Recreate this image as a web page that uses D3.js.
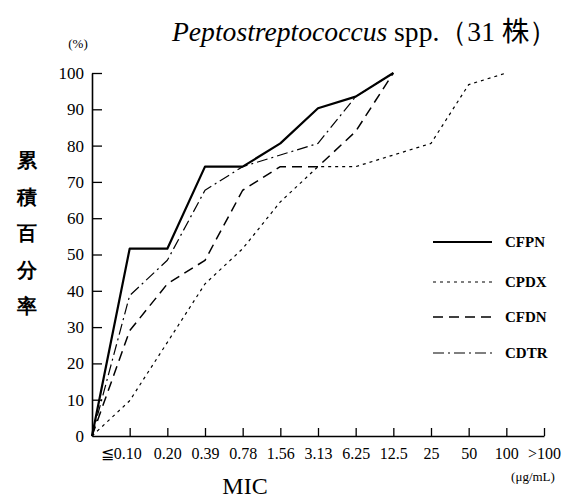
<!DOCTYPE html>
<html><head><meta charset="utf-8">
<script src="https://cdn.jsdelivr.net/npm/d3@7"></script>
<style>
body{margin:0;background:#fff;}
text{font-family:"Liberation Serif","DejaVu Serif",serif;fill:#000;}
</style></head>
<body>
<svg id="chart" width="577" height="502"></svg>
<script>
// ---- data ----
const categories = ["0","≦0.10","0.20","0.39","0.78","1.56","3.13","6.25","12.5","25","50","100",">100"];
const yTicks = [0,10,20,30,40,50,60,70,80,90,100];
const seriesNames = ["CFPN","CPDX","CFDN","CDTR"];
const cfpn = [0,51.6,51.6,74.2,74.2,80.6,90.3,93.5,100];
const cpdx = [0,9.7,25.8,41.9,51.6,64.5,74.2,74.2,77.4,80.6,96.8,100];
const cfdn = [0,29.0,41.9,48.4,67.7,74.2,74.2,83.9,100];
const cdtr = [0,38.7,48.4,67.7,74.2,77.4,80.6,93.5,100];
const seriesValues = [cfpn,cpdx,cfdn,cdtr];

const svg = d3.select("#chart");
const x = d3.scalePoint().domain(categories).range([92,544]);
const y = d3.scaleLinear().domain([0,100]).range([436,73]);

const styles = [
  {w:2.2, dash:null},
  {w:1.2, dash:"3,4"},
  {w:1.5, dash:"10,6"},
  {w:1.2, dash:"11,4,2,4"}
];

// axes
const xAxis = svg.append("g").attr("transform","translate(0,436)")
  .call(d3.axisBottom(x).tickSize(-8).tickSizeOuter(0).tickFormat(d=>d==="0"?"":d));
xAxis.select(".domain").attr("stroke","#000").attr("stroke-width",1.6);
xAxis.selectAll(".tick line").attr("stroke","#000").attr("stroke-width",1.3);
xAxis.selectAll(".tick").filter(d=>d==="0").select("line").remove();
xAxis.selectAll(".tick text").attr("font-size",16).attr("y",12).attr("dy","0.71em")
  .attr("font-family","Liberation Serif")
  .attr("dx",d=>d==="≦0.10"?-9:0);

const yAxis = svg.append("g").attr("transform","translate(92,0)")
  .call(d3.axisLeft(y).tickValues(yTicks).tickSize(-10).tickSizeOuter(0));
yAxis.select(".domain").attr("stroke","#000").attr("stroke-width",1.6);
yAxis.selectAll(".tick line").attr("stroke","#000").attr("stroke-width",1.3);
yAxis.selectAll(".tick").filter(d=>d===0).select("line").remove();
yAxis.selectAll(".tick text").attr("font-size",17).attr("x",-8).attr("font-family","Liberation Serif");

// lines
const line = d3.line().x((d,i)=>x(categories[i])).y(d=>y(d));
seriesValues.forEach((vals,k)=>{
  svg.append("path").datum(vals).attr("d",line)
    .attr("fill","none").attr("stroke","#000")
    .attr("stroke-width",styles[k].w)
    .attr("stroke-dasharray",styles[k].dash)
    .attr("stroke-linejoin","round");
});

// legend
const legY = [242,282,317,353];
seriesNames.forEach((n,k)=>{
  svg.append("line").attr("x1",433).attr("x2",492).attr("y1",legY[k]).attr("y2",legY[k])
    .attr("stroke","#000").attr("stroke-width",styles[k].w)
    .attr("stroke-dasharray",styles[k].dash);
  svg.append("text").attr("x",505).attr("y",legY[k]).attr("dy","0.35em")
    .attr("font-size",15).attr("font-weight","bold").text(n);
});

// title
const t = svg.append("text").attr("x",172).attr("y",41).attr("font-size",21)
  .attr("font-family","DejaVu Serif");
t.append("tspan").attr("font-style","italic").text("Peptostreptococcus");
t.append("tspan").text(" spp.（31 ");
t.append("tspan").attr("font-family","Noto Sans CJK JP").text("株");
t.append("tspan").text("）");
const tw = t.node().getComputedTextLength();
if (tw > 0) t.attr("font-size", 21*385/tw);

// (%)
svg.append("text").attr("x",78).attr("y",48).attr("text-anchor","middle").attr("font-size",13).text("(%)");

// y label vertical
const yl = ["累","積","百","分","率"];
yl.forEach((c,i)=>{
  svg.append("text").attr("x",27).attr("y",160+i*36.5).attr("dy","0.35em")
    .attr("text-anchor","middle").attr("font-family","Noto Sans CJK JP")
    .attr("font-weight","bold").attr("font-size",20).text(c);
});

// x label
svg.append("text").attr("x",245).attr("y",494).attr("text-anchor","middle").attr("font-size",24).text("MIC");
svg.append("text").attr("x",533).attr("y",481).attr("text-anchor","middle").attr("font-size",13).text("(μg/mL)");
</script>
</body></html>
